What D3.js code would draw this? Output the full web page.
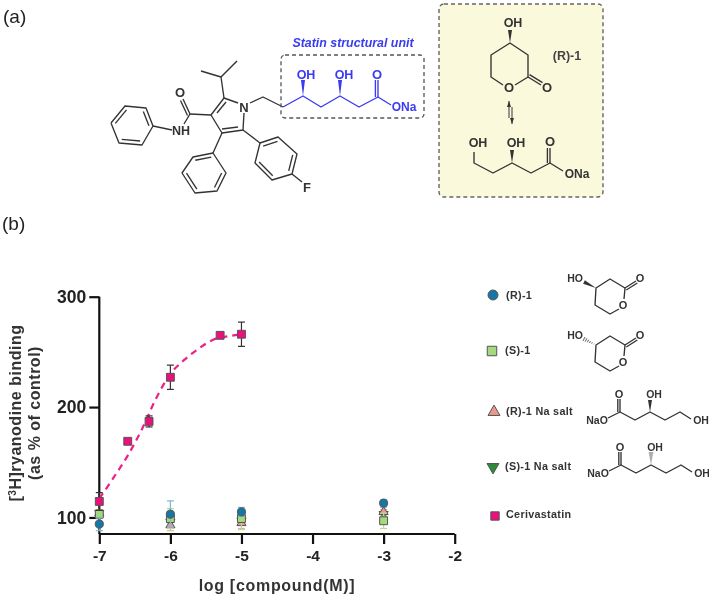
<!DOCTYPE html>
<html>
<head>
<meta charset="utf-8">
<script src="https://cdn.jsdelivr.net/npm/d3@7"></script>
<style>
  html, body { margin: 0; background: #fff; }
  svg { display: block; filter: blur(0.4px); }
  text { font-family: "Liberation Sans", Arial, sans-serif; }
</style>
</head>
<body>
<div id="root"></div>
<script>
// chart values
const xTicks = [-7, -6, -5, -4, -3, -2]
const yTicks = [100, 200, 300]

const doses = [-7, -6, -5, -3]
const r1 = [94, 103, 105, 113]
const r1Err = [6, 12, 4, 3]
const s1 = [103, 99, 99, 97]
const s1Err = [4, 9, 10, 7]
const rNa = [104, 93, 95, 105]
const rNaErr = [3, 5, 5, 4]
const sNa = [104, 96, 97, 103]
const sNaErr = [3, 4, 4, 4]

const ceriDoses = [-7, -6.6, -6.3, -6, -5.3, -5]
const ceriVals = [114.5, 169, 187, 227, 265, 266]
const ceriErr = [8, 0, 5, 11, 0, 11]

const fitX = [-7, -6.8, -6.6, -6.4, -6.2, -6, -5.8, -5.6, -5.4, -5.2, -5]
const fitY = [117, 136, 156, 180, 208, 230, 243, 253, 261, 264, 266]

const legendNames = ["(R)-1", "(S)-1", "(R)-1 Na salt", "(S)-1 Na salt", "Cerivastatin"]

const w = 709, h = 596
const svg = d3.select("#root").append("svg").attr("width", w).attr("height", h)

const ink = "#333", blue = "#3a3af0"

// molecule drawing helpers, coordinates are page pixels
const bond = (g, pts, color = ink, sw = 1.35) => g.append("path")
  .attr("d", d3.line()(pts)).attr("fill", "none").attr("stroke", color)
  .attr("stroke-width", sw).attr("stroke-linejoin", "round")

const dbl = (g, a, b, dx, dy, color = ink) => {
  bond(g, [a, b], color)
  bond(g, [[a[0] + dx, a[1] + dy], [b[0] + dx, b[1] + dy]], color)
}

const label = (g, x, y, s, color = ink, size = 12, anchor = "middle") => g.append("text")
  .attr("x", x).attr("y", y).attr("dy", "0.36em").attr("text-anchor", anchor)
  .attr("fill", color).attr("font-size", size).attr("font-weight", "bold").text(s)

const wedge = (g, a, b, color = ink) => {
  const dx = b[0] - a[0], dy = b[1] - a[1], l = Math.hypot(dx, dy)
  const nx = -dy / l * 2, ny = dx / l * 2
  g.append("path").attr("fill", color)
    .attr("d", d3.line()([a, [b[0] + nx, b[1] + ny], [b[0] - nx, b[1] - ny]]) + "Z")
}

const hash = (g, a, b) => {
  const dx = b[0] - a[0], dy = b[1] - a[1], l = Math.hypot(dx, dy)
  d3.range(1, 7).forEach(i => {
    const t = i / 6, nx = -dy / l * 2.2 * t, ny = dx / l * 2.2 * t
    const cx = a[0] + dx * t, cy = a[1] + dy * t
    bond(g, [[cx + nx, cy + ny], [cx - nx, cy - ny]], ink, 0.8)
  })
}

const benzene = (g, v) => {
  bond(g, [...v, v[0]])
  const cx = d3.mean(v, d => d[0]), cy = d3.mean(v, d => d[1])
  ;[0, 2, 4].forEach(i => {
    const a = v[i], b = v[(i + 1) % 6]
    const ins = p => [p[0] + (cx - p[0]) * 0.2, p[1] + (cy - p[1]) * 0.2]
    bond(g, [ins(a), ins(b)])
  })
}

// panel labels
svg.append("text").attr("x", 3).attr("y", 23).attr("font-size", 19).attr("fill", "#222").text("(a)")
svg.append("text").attr("x", 2).attr("y", 230).attr("font-size", 19).attr("fill", "#222").text("(b)")

// panel a, statin structure
const a = svg.append("g")
benzene(a, [[111, 123], [125, 106], [146, 108], [153, 126], [142, 145], [119, 143]])
bond(a, [[153, 126], [172, 130]])
label(a, 181, 130, "NH", ink, 12.5)
bond(a, [[190, 114], [184, 124]])
dbl(a, [190, 114], [183, 99], -2.5, 1.5)
label(a, 180, 92.5, "O", ink, 13)
bond(a, [[190, 114], [211, 115]])
bond(a, [[211, 115], [224, 98], [238, 103]])
bond(a, [[244, 113], [243, 130], [222, 133], [211, 115]])
bond(a, [[217, 113], [226, 102]])
bond(a, [[222, 129], [238, 127]])
label(a, 244, 107, "N", ink, 13)
bond(a, [[224, 98], [221, 77], [201, 71]])
bond(a, [[221, 77], [237, 61]])
bond(a, [[250, 103], [263, 97], [283, 107]])
bond(a, [[222, 133], [213, 153]])
benzene(a, [[213, 153], [193, 157], [182, 173], [195, 193], [217, 191], [226, 173]])
bond(a, [[243, 130], [260, 143]])
benzene(a, [[260, 143], [278, 137], [297, 154], [292, 174], [272, 180], [255, 163]])
bond(a, [[292, 174], [302, 182]])
label(a, 307, 187, "F", ink, 13)

// statin unit
svg.append("rect").attr("x", 281).attr("y", 55).attr("width", 143).attr("height", 63).attr("rx", 4)
  .attr("fill", "none").attr("stroke", "#555").attr("stroke-width", 1.3).attr("stroke-dasharray", "4 3")
svg.append("text").attr("x", 353).attr("y", 43).attr("dy", "0.36em").attr("text-anchor", "middle")
  .attr("fill", blue).attr("font-size", 12.4).attr("font-weight", "bold").attr("font-style", "italic")
  .text("Statin structural unit")
bond(a, [[283, 107], [303, 96], [321, 107], [340, 96], [359, 107], [378, 97], [391, 105]], blue)
dbl(a, [378, 97], [378, 80], -2.6, 0, blue)
wedge(a, [303, 96], [303, 80], blue)
wedge(a, [340, 96], [340, 80], blue)
label(a, 306, 74, "OH", blue, 12.5)
label(a, 344, 74, "OH", blue, 12.5)
label(a, 377, 74, "O", blue, 13)
label(a, 404, 107, "ONa", blue)

// panel a, yellow box
svg.append("rect").attr("x", 439).attr("y", 4).attr("width", 164).attr("height", 193).attr("rx", 5)
  .attr("fill", "#fbf9dc").attr("stroke", "#666").attr("stroke-width", 1.4).attr("stroke-dasharray", "4 3")
const y = svg.append("g")
label(y, 513, 22, "OH", ink, 12.5)
wedge(y, [510, 43], [510, 30])
bond(y, [[503, 85], [491, 77], [491, 55], [510, 43], [528, 55], [528, 77], [515, 85]])
dbl(y, [528, 77], [541, 85], 1.5, -2.4)
label(y, 509, 87.5, "O", ink, 13)
label(y, 547, 87.5, "O", ink, 13)
bond(y, [[509, 101], [509, 118]], ink, 1)
bond(y, [[512, 107], [512, 124]], ink, 1)
wedge(y, [509, 101], [509, 107])
wedge(y, [512, 124], [512, 118])
label(y, 567, 55, "(R)-1", "#444", 12.5)
label(y, 478, 142, "OH", ink, 12.5)
label(y, 516, 142, "OH", ink, 12.5)
label(y, 550, 141, "O", ink, 13)
bond(y, [[474, 152], [474, 163], [493, 173], [512, 163], [531, 173], [550, 163], [563, 171]])
dbl(y, [550, 163], [550, 148], -2.6, 0)
wedge(y, [512, 163], [512, 150])
label(y, 577, 174, "ONa")

// panel b, axes
const x = d3.scaleLinear().domain([-7, -2]).range([99.3, 454.7])
const yScale = d3.scaleLinear().domain([85, 300]).range([534, 296.7])

const yAxis = d3.axisLeft(yScale).tickValues(yTicks).tickSize(10).tickPadding(3).tickFormat(d3.format("d"))
const xAxis = d3.axisBottom(x).tickValues(xTicks).tickSize(10).tickPadding(6).tickFormat(d => d3.format("d")(d).replace("−", "-"))

const gx = svg.append("g").attr("transform", `translate(0,${yScale.range()[0]})`).call(xAxis)
const gy = svg.append("g").attr("transform", `translate(${x(-7)},0)`).call(yAxis)
gx.selectAll(".domain").attr("d", `M${x(-7)},0H${x(-2)}`)
gy.selectAll(".domain").attr("d", `M0,${yScale(85)}V${yScale(300)}`)
;[gx, gy].forEach(g => {
  g.selectAll(".domain, line").attr("stroke", "#111").attr("stroke-width", 2.2)
  g.selectAll("text").attr("fill", "#222").attr("font-weight", "bold")
    .attr("font-family", '"Liberation Sans", Arial, sans-serif')
})
gx.selectAll("text").attr("font-size", 15.5)
gy.selectAll("text").attr("font-size", 17.5)

svg.append("text").attr("x", 277).attr("y", 585).attr("dy", "0.36em").attr("text-anchor", "middle")
  .attr("font-size", 16).attr("font-weight", "bold").attr("fill", "#333").attr("letter-spacing", 0.7)
  .text("log [compound(M)]")

const yt = svg.append("text").attr("transform", "translate(15,413) rotate(-90)").attr("text-anchor", "middle")
  .attr("dy", "0.36em").attr("font-size", 16).attr("font-weight", "bold").attr("fill", "#333").attr("letter-spacing", 0.5)
yt.append("tspan").text("[")
yt.append("tspan").attr("font-size", 10).attr("dy", -5).text("3")
yt.append("tspan").attr("dy", 5).text("H]ryanodine binding")
svg.append("text").attr("transform", "translate(34,413) rotate(-90)").attr("text-anchor", "middle")
  .attr("dy", "0.36em").attr("font-size", 16).attr("font-weight", "bold").attr("fill", "#333").attr("letter-spacing", 0.5)
  .text("(as % of control)")

// series
const series = [
  { xs: doses, ys: sNa, err: sNaErr, sym: d3.symbolTriangle, flip: true, fill: "#2e8b3a", cap: "#8fc98f", size: 36 },
  { xs: doses, ys: rNa, err: rNaErr, sym: d3.symbolTriangle, flip: false, fill: "#e89a90", cap: "#e8b0a8", size: 36 },
  { xs: doses, ys: s1, err: s1Err, sym: d3.symbolSquare, flip: false, fill: "#a5d97f", cap: "#b5dc96", size: 62 },
  { xs: doses, ys: r1, err: r1Err, sym: d3.symbolCircle, flip: false, fill: "#1577a8", cap: "#7fb6cf", size: 52 },
  { xs: ceriDoses, ys: ceriVals, err: ceriErr, sym: d3.symbolSquare, flip: false, fill: "#ee0f7e", cap: "#333", size: 62 }
]

const fit = d3.line().x(d => x(d[0])).y(d => yScale(d[1])).curve(d3.curveMonotoneX)
svg.append("path").attr("d", fit(d3.zip(fitX, fitY))).attr("fill", "none")
  .attr("stroke", "#ee1f85").attr("stroke-width", 2.2).attr("stroke-dasharray", "6.5 5")

const marker = (sel, s) => sel.attr("d", d3.symbol().type(s.sym).size(s.size))
  .attr("fill", s.fill).attr("stroke", "#555").attr("stroke-width", 1)

series.forEach(s => {
  const g = svg.append("g")
  const pts = s.xs.map((d, i) => ({ x: d, y: s.ys[i], e: s.err[i] }))
  const bars = g.selectAll(".err").data(pts.filter(d => d.e > 0)).join("g")
    .attr("stroke", s.cap).attr("stroke-width", 1.2)
  bars.append("line").attr("x1", d => x(d.x)).attr("x2", d => x(d.x))
    .attr("y1", d => yScale(d.y - d.e)).attr("y2", d => yScale(d.y + d.e))
  ;[-1, 1].forEach(k => bars.append("line")
    .attr("x1", d => x(d.x) - 3.5).attr("x2", d => x(d.x) + 3.5)
    .attr("y1", d => yScale(d.y + k * d.e)).attr("y2", d => yScale(d.y + k * d.e)))
  g.selectAll("path").data(pts).join("path")
    .call(marker, s)
    .attr("transform", d => `translate(${x(d.x)},${yScale(d.y)})${s.flip ? " rotate(180)" : ""}`)
})

// legend
const legendOrder = [3, 2, 1, 0, 4]
const legendMarkY = [295, 351, 412, 467, 516]
const legendMarkX = [493, 492, 494, 493, 495]
const legendTextX = [506, 505, 506, 505, 506]
const legendTextY = [295, 350, 411, 466, 514]
const legendSize = [78, 90, 62, 62, 70]
legendNames.forEach((name, i) => {
  const s = series[legendOrder[i]]
  svg.append("path").call(marker, { ...s, size: legendSize[i] })
    .attr("transform", `translate(${legendMarkX[i]},${legendMarkY[i]})${s.flip ? " rotate(180)" : ""}`)
  svg.append("text").attr("x", legendTextX[i]).attr("y", legendTextY[i]).attr("dy", "0.36em")
    .attr("font-size", 10.8).attr("font-weight", "bold").attr("fill", "#333").attr("letter-spacing", 0.3).text(name)
})

// legend molecules
const lactone = (dy, draw) => {
  const g = svg.append("g")
  label(g, 575, 278 + dy, "HO", ink, 10.5)
  draw(g, [596, 288 + dy], [584, 282 + dy])
  bond(g, [[619, 309 + dy], [610, 314 + dy], [595, 305 + dy], [596, 288 + dy], [610, 279 + dy], [625, 288 + dy], [624, 299 + dy]])
  dbl(g, [625, 288 + dy], [636, 281 + dy], 1.3, 2)
  label(g, 623, 305 + dy, "O", ink, 11)
  label(g, 640, 278 + dy, "O", ink, 11)
}
lactone(0, wedge)
lactone(57, hash)

const openForm = (ox, oy, draw) => {
  const g = svg.append("g").attr("transform", `translate(${ox},${oy})`)
  label(g, 597, 420, "NaO", ink, 10.5)
  bond(g, [[608, 418], [620, 412], [635, 420], [650, 412], [665, 420], [680, 412], [691, 419]])
  dbl(g, [620, 412], [620, 399], -2.2, 0)
  draw(g, [650, 412], [650, 400])
  label(g, 619, 394, "O", ink, 11)
  label(g, 654, 394, "OH", ink, 10.5)
  label(g, 701, 420, "OH", ink, 10.5)
}
openForm(0, 0, wedge)
openForm(1, 53, hash)
</script>
</body>
</html>
